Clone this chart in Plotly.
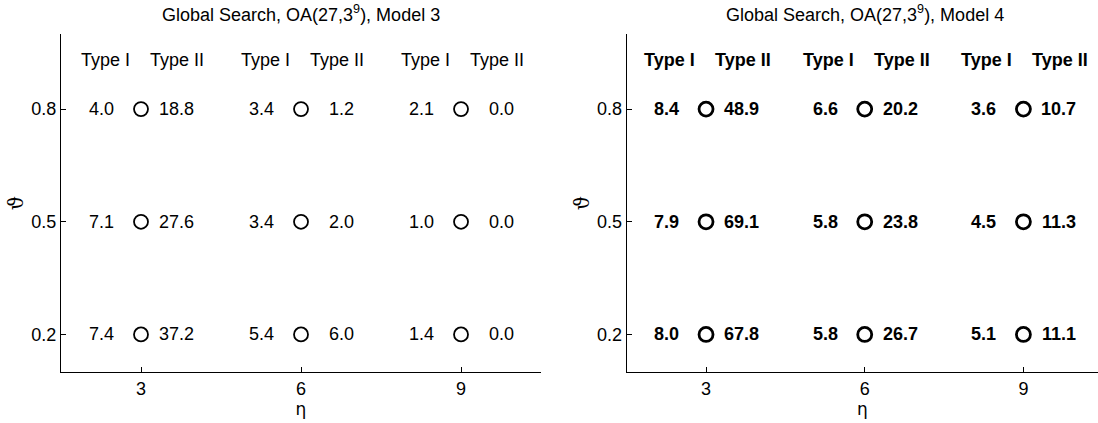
import plotly.graph_objects as go

# ---------------- data ----------------
eta = [3, 6, 9]
phi = [0.8, 0.5, 0.2]

# rows follow phi (0.8, 0.5, 0.2), columns follow eta (3, 6, 9)
m3_type1 = [[4.0, 3.4, 2.1],
            [7.1, 3.4, 1.0],
            [7.4, 5.4, 1.4]]
m3_type2 = [[18.8, 1.2, 0.0],
            [27.6, 2.0, 0.0],
            [37.2, 6.0, 0.0]]
m4_type1 = [[8.4, 6.6, 3.6],
            [7.9, 5.8, 4.5],
            [8.0, 5.8, 5.1]]
m4_type2 = [[48.9, 20.2, 10.7],
            [69.1, 23.8, 11.3],
            [67.8, 26.7, 11.1]]

titles = ["Global Search, OA(27,3<sup>9</sup>), Model 3",
          "Global Search, OA(27,3<sup>9</sup>), Model 4"]
header_labels = ["Type I", "Type II"]
header_y = 0.93
x_ticks = [3, 6, 9]
y_ticks = [0.2, 0.5, 0.8]
x_title = "η"
y_title = "ϑ"

FONT = "Liberation Sans, Arial, sans-serif"
FS = 18

fig = go.Figure()
annotations = []

panels = [
    ("x", "y", m3_type1, m3_type2, "normal", 1.8),
    ("x2", "y2", m4_type1, m4_type2, "bold", 2.8),
]

for pi, (xr, yr, t1, t2, weight, lw) in enumerate(panels):
    xs, ys = [], []
    for i, p in enumerate(phi):
        for j, e in enumerate(eta):
            xs.append(e)
            ys.append(p)
            annotations.append(dict(
                x=e, y=p, xref=xr, yref=yr, text=f"{t1[i][j]:.1f}",
                showarrow=False, xanchor="right", yanchor="middle", xshift=-25,
                font=dict(family=FONT, size=FS, color="black", weight=weight)))
            annotations.append(dict(
                x=e, y=p, xref=xr, yref=yr, text=f"{t2[i][j]:.1f}",
                showarrow=False, xanchor="right", yanchor="middle", xshift=55,
                font=dict(family=FONT, size=FS, color="black", weight=weight)))
    fig.add_trace(go.Scatter(
        x=xs, y=ys, xaxis=xr, yaxis=yr, mode="markers",
        marker=dict(symbol="circle-open", size=14, color="black",
                    line=dict(width=lw, color="black")),
        showlegend=False, hoverinfo="skip"))
    for e in eta:
        annotations.append(dict(
            x=e, y=header_y, xref=xr, yref=yr, text=header_labels[0],
            showarrow=False, xanchor="right", yanchor="middle", xshift=-9,
            font=dict(family=FONT, size=FS, color="black", weight=weight)))
        annotations.append(dict(
            x=e, y=header_y, xref=xr, yref=yr, text=header_labels[1],
            showarrow=False, xanchor="left", yanchor="middle", xshift=7,
            font=dict(family=FONT, size=FS, color="black", weight=weight)))
    annotations.append(dict(
        x=6, y=1, xref=xr, yref="paper", text=titles[pi], showarrow=False,
        xanchor="center", yanchor="bottom", yshift=7,
        font=dict(family=FONT, size=FS, color="black")))

axis_common = dict(
    showline=True, linecolor="black", linewidth=1, mirror=False,
    ticks="inside", ticklen=5, tickcolor="black", tickwidth=1,
    showgrid=False, zeroline=False, automargin=False,
    tickfont=dict(family=FONT, size=FS, color="black"),
)

xt_font = dict(family="DejaVu Sans, sans-serif", size=17, color="black")
yt_font = dict(family="DejaVu Serif, serif", size=20, color="black")

fig.update_layout(
    width=1098, height=423,
    margin=dict(l=61, r=0, t=34, b=51),
    paper_bgcolor="white", plot_bgcolor="white",
    annotations=annotations,
    xaxis=dict(domain=[0, 0.4629], range=[1.5, 10.5], tickvals=x_ticks,
               title=dict(text=x_title, standoff=2, font=xt_font),
               anchor="y", **axis_common),
    yaxis=dict(domain=[0, 1], range=[0.1, 1.0], tickvals=y_ticks, tickformat=".1f",
               title=dict(text=y_title, standoff=2, font=yt_font),
               anchor="x", **axis_common),
    xaxis2=dict(domain=[0.5455, 1], range=[1.5, 10.41], tickvals=x_ticks,
                title=dict(text=x_title, standoff=2, font=xt_font),
                anchor="y2", **axis_common),
    yaxis2=dict(domain=[0, 1], range=[0.1, 1.0], tickvals=y_ticks, tickformat=".1f",
                title=dict(text=y_title, standoff=2, font=yt_font),
                anchor="x2", **axis_common),
)

fig.write_html("out.html", config={"displayModeBar": False},
               post_script="document.body.style.margin='0px';document.body.style.padding='0px';")
